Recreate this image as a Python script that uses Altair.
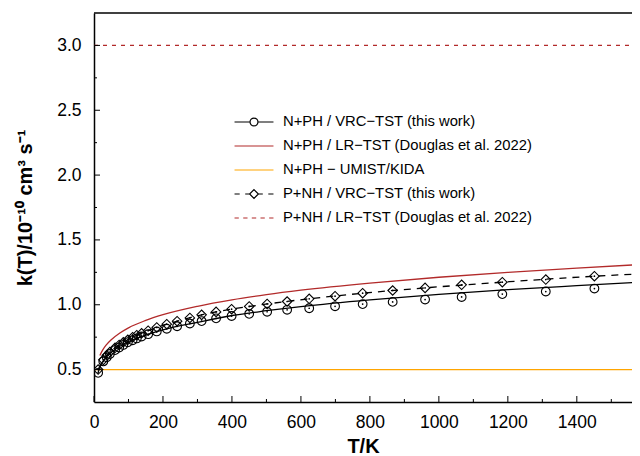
import altair as alt
import pandas as pd

# ---------------- data ----------------
S1 = "N+PH / VRC−TST (this work)"
S2 = "N+PH / LR−TST (Douglas et al. 2022)"
S3 = "N+PH − UMIST/KIDA"
S4 = "P+NH / VRC−TST (this work)"
S5 = "P+NH / LR−TST (Douglas et al. 2022)"
series_names = [S1, S2, S3, S4, S5]
series_colors = ["#000000", "#b22a2a", "#ffa500", "#000000", "#b22a2a"]

# computed points (markers)
marker_T = [12, 27, 37, 46, 61, 73, 85, 98, 112, 124, 138, 157, 182, 211, 241, 278,
            312, 354, 399, 450, 502, 560, 624, 699, 779, 866, 960, 1066, 1184, 1310, 1451]
nph_vrc_k = [0.475, 0.563, 0.595, 0.62, 0.65, 0.67, 0.69, 0.71, 0.726, 0.74, 0.755, 0.773,
             0.794, 0.815, 0.834, 0.855, 0.874, 0.895, 0.913, 0.93, 0.946, 0.961, 0.973,
             0.988, 1.005, 1.022, 1.040, 1.060, 1.082, 1.102, 1.125]
pnh_vrc_k = [0.50, 0.575, 0.61, 0.635, 0.668, 0.69, 0.71, 0.73, 0.75, 0.765, 0.78, 0.80,
             0.825, 0.85, 0.873, 0.898, 0.922, 0.945, 0.966, 0.987, 1.006, 1.025, 1.046,
             1.066, 1.089, 1.110, 1.130, 1.154, 1.174, 1.194, 1.220]

# curves
nph_fit_T = [12, 20, 30, 50, 75, 100, 150, 200, 300, 400, 500, 600, 800, 1000, 1200, 1400, 1583]
nph_fit_k = [0.478, 0.536, 0.577, 0.633, 0.68, 0.716, 0.766, 0.806, 0.864, 0.917, 0.954,
             0.986, 1.038, 1.080, 1.116, 1.147, 1.174]
pnh_fit_T = [12, 27, 46, 73, 98, 138, 182, 241, 312, 399, 502, 624, 779, 960, 1184, 1451, 1583]
pnh_fit_k = [0.50, 0.575, 0.635, 0.69, 0.73, 0.78, 0.825, 0.873, 0.922, 0.966, 1.006, 1.046,
             1.089, 1.130, 1.174, 1.220, 1.238]
nph_lr_T = [17, 25, 35, 50, 75, 100, 150, 200, 300, 400, 500, 600, 800, 1000, 1200, 1400, 1583]
nph_lr_k = [0.609, 0.650, 0.688, 0.73, 0.782, 0.822, 0.879, 0.923, 0.988, 1.038, 1.078,
            1.112, 1.167, 1.212, 1.249, 1.282, 1.31]
kida_T = [0, 1583]
kida_k = [0.5, 0.5]
pnh_lr_T = [0, 1583]
pnh_lr_k = [3.0, 3.0]

# axes
x_domain = [0, 1560]
y_domain = [0.25, 3.25]
x_major = [0, 200, 400, 600, 800, 1000, 1200, 1400]
x_minor = [100, 300, 500, 700, 900, 1100, 1300, 1500]
y_major = [0.5, 1.0, 1.5, 2.0, 2.5, 3.0]
y_minor = [0.75, 1.25, 1.75, 2.25, 2.75]

# ---------------- styling ----------------
W, H = 538, 389
FONT = "Liberation Sans"
xs = alt.Scale(domain=x_domain, nice=False, zero=False)
ys = alt.Scale(domain=y_domain, nice=False, zero=False)

legend_paths = [
    "M-1.77,0H-0.36M0.36,0H1.77M0.36,0A0.36,0.36,0,1,1,-0.36,0A0.36,0.36,0,1,1,0.36,0Z",
    "M-1.77,0H1.77",
    "M-1.77,0H1.77",
    "M-1.77,0H-1.3M-0.8,0H-0.4M0.4,0H0.8M1.3,0H1.77M0,-0.4L0.4,0L0,0.4L-0.4,0Z",
    "M-1.77,0H-1.38M-0.98,0H-0.59M-0.2,0H0.2M0.59,0H0.98M1.38,0H1.77",
]

x_axis = alt.Axis(
    values=x_major, format="d", title="T/K", grid=False, ticks=False,
    labelPadding=11, labelFontSize=17.5, labelFont=FONT, labelColor="black",
    labelFlush=False, labelOverlap=False,
    titleFont=FONT, titleFontSize=20, titleFontWeight="bold", titleColor="black",
    titlePadding=6, domainColor="black", domainWidth=1.5)
y_axis = alt.Axis(
    values=y_major, format=".1f", title="k(T)/10⁻¹⁰ cm³ s⁻¹", grid=False, ticks=False,
    labelPadding=13, labelFontSize=17.5, labelFont=FONT, labelColor="black",
    labelFlush=False, labelOverlap=False,
    titleFont=FONT, titleFontSize=20, titleFontWeight="bold", titleColor="black",
    titlePadding=21, domainColor="black", domainWidth=1.5)


def xenc():
    return alt.X("T:Q", scale=xs, axis=x_axis)


def yenc():
    return alt.Y("k:Q", scale=ys, axis=y_axis)


def line(T, k, color, dash=None):
    df = pd.DataFrame({"T": T, "k": k})
    kw = dict(color=color, strokeWidth=1.3, clip=True, interpolate="monotone")
    if dash is not None:
        kw["strokeDash"] = dash
    return alt.Chart(df).mark_line(**kw).encode(x=xenc(), y=yenc())


layers = [
    line(kida_T, kida_k, series_colors[2]),
    line(pnh_lr_T, pnh_lr_k, series_colors[4], dash=[4, 5]),
    line(nph_lr_T, nph_lr_k, series_colors[1]),
    line(nph_fit_T, nph_fit_k, series_colors[0]),
    line(pnh_fit_T, pnh_fit_k, series_colors[3], dash=[7, 6]),
]

circ_df = pd.DataFrame({"T": marker_T, "k": nph_vrc_k})
diam_df = pd.DataFrame({"T": marker_T, "k": pnh_vrc_k})
for df, shp, sz in [(circ_df, "circle", 76), (diam_df, "diamond", 90)]:
    layers.append(alt.Chart(df).mark_point(shape=shp, size=sz, filled=False, color="black",
                                           strokeWidth=1.1, opacity=1, clip=True)
                  .encode(x=xenc(), y=yenc()))
    layers.append(alt.Chart(df).mark_circle(size=3, color="black", opacity=1, clip=True)
                  .encode(x=xenc(), y=yenc()))

# legend layer (invisible marks, visible legend)
leg_rows = []
for name, T, k in [(S1, nph_fit_T, nph_fit_k), (S2, nph_lr_T, nph_lr_k), (S3, kida_T, kida_k),
                   (S4, pnh_fit_T, pnh_fit_k), (S5, pnh_lr_T, pnh_lr_k)]:
    for t, v in zip(T, k):
        leg_rows.append({"T": t, "k": v, "series": name})
leg_df = pd.DataFrame(leg_rows)
leg = alt.Legend(title=None, orient="none", legendX=148, legendY=97, padding=0,
                 symbolSize=484, symbolStrokeWidth=1.2, symbolFillColor="transparent",
                 symbolOpacity=1, labelFont=FONT, labelFontSize=14.8, labelColor="black",
                 labelOffset=17, rowPadding=5, labelLimit=0)
layers.append(alt.Chart(leg_df).mark_point(opacity=0, filled=False).encode(
    x=xenc(), y=yenc(),
    color=alt.Color("series:N", scale=alt.Scale(domain=series_names, range=series_colors), legend=leg),
    shape=alt.Shape("series:N", scale=alt.Scale(domain=series_names, range=legend_paths), legend=leg),
))

# inward ticks
for vals, ln in [(x_major, 6), (x_minor, 3)]:
    layers.append(alt.Chart(pd.DataFrame({"T": vals})).mark_rule(color="black", strokeWidth=1)
                  .encode(x=xenc(), y=alt.value(H), y2=alt.value(H - ln)))
for vals, ln in [(y_major, 6), (y_minor, 3)]:
    layers.append(alt.Chart(pd.DataFrame({"k": vals})).mark_rule(color="black", strokeWidth=1)
                  .encode(y=yenc(), x=alt.value(0), x2=alt.value(ln)))

# top frame
layers.append(alt.Chart(pd.DataFrame({"a": [0]})).mark_rule(color="black", strokeWidth=1.5)
              .encode(x=alt.value(0), x2=alt.value(W), y=alt.value(0)))

chart = alt.layer(*layers).properties(
    width=W, height=H,
    autosize=alt.AutoSizeParams(type="none"),
    padding={"left": 86, "top": 5, "right": 0, "bottom": 54},
).configure_view(stroke="transparent")

chart.save("out.html", embed_options={"renderer": "svg", "actions": False})
